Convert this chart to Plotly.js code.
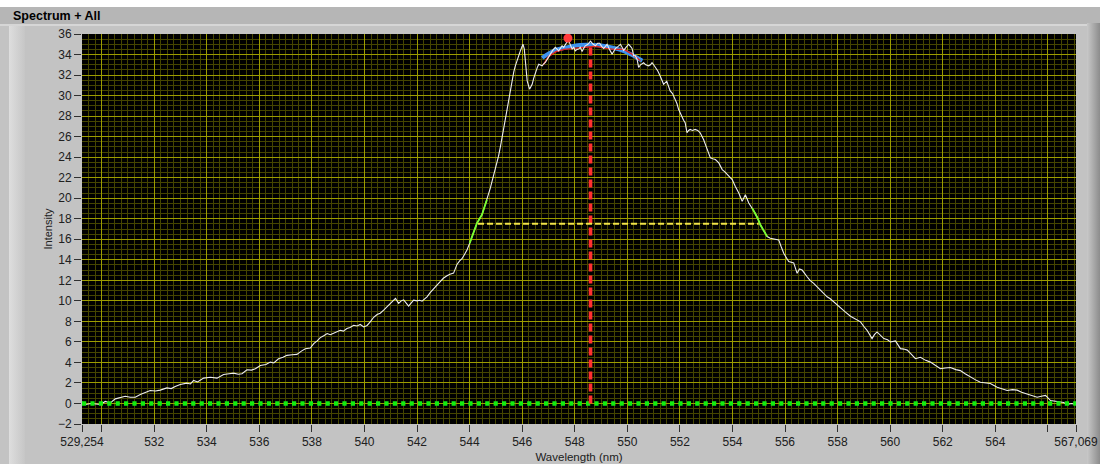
<!DOCTYPE html>
<html>
<head>
<meta charset="utf-8">
<script src="https://cdn.plot.ly/plotly-3.0.1.min.js"></script>
<style>
  html, body { margin: 0; padding: 0; width: 1104px; height: 464px; overflow: hidden; background: #c3c3c3; }
  #wrap { position: relative; width: 1104px; height: 464px; }
  .bg { position: absolute; }
  #chart { position: absolute; left: 0; top: 0; width: 1104px; height: 464px; }
</style>
</head>
<body>
<div id="wrap">
  <div class="bg" style="left:0;top:0;width:1104px;height:7px;background:#ffffff;"></div>
  <div class="bg" style="left:0;top:7px;width:1104px;height:17px;background:#b6b6b6;"></div>
  <div class="bg" style="left:0;top:24px;width:1104px;height:2px;background:#d6d6d6;"></div>
  <div class="bg" style="left:0;top:26px;width:1104px;height:438px;background:#c3c3c3;"></div>
  <div class="bg" style="left:9px;top:26px;width:16px;height:438px;background:linear-gradient(to right,#dedede,#c6c6c6);"></div>
  <div class="bg" style="left:1087px;top:23px;width:13px;height:441px;background:linear-gradient(to right,#c8c8c8,#8c8c8c);"></div>
  <div class="bg" style="left:1100px;top:0;width:4px;height:464px;background:#ffffff;"></div>
  <div id="chart"></div>
</div>
<script>
// ---- spectrum ----
const wavelength = [529.254,529.4,529.6,529.95,530.14,530.33,530.52,530.71,530.9,531.09,531.28,531.47,531.66,531.85,532.05,532.23,532.48,532.65,532.8,532.99,533.24,533.38,533.5,533.65,533.88,534.14,534.39,534.64,534.85,535.02,535.2,535.34,535.53,535.7,535.85,536.04,536.25,536.42,536.55,536.73,536.9,537.05,537.25,537.43,537.6,537.75,537.94,538.07,538.2,538.32,538.45,538.58,538.7,538.83,538.95,539.08,539.2,539.33,539.45,539.59,539.72,539.84,539.97,540.1,540.22,540.35,540.48,540.6,540.73,540.86,540.99,541.1,541.18,541.3,541.4,541.49,541.6,541.68,541.78,541.87,542.0,542.1,542.19,542.28,542.38,542.5,542.63,542.75,542.89,543.0,543.14,543.25,543.39,543.52,543.62,543.71,543.8,543.9,544.0,544.09,544.18,544.28,544.38,544.47,544.56,544.66,544.79,544.88,544.98,545.1,545.17,545.24,545.3,545.36,545.43,545.49,545.56,545.62,545.68,545.74,545.8,545.87,545.93,546.0,546.03,546.08,546.13,546.19,546.28,546.38,546.44,546.5,546.57,546.63,546.7,546.76,546.82,546.88,546.97,547.07,547.16,547.26,547.33,547.39,547.45,547.52,547.58,547.64,547.7,547.77,547.83,547.9,547.96,548.02,548.09,548.15,548.21,548.28,548.34,548.4,548.5,548.6,548.7,548.79,548.87,548.95,549.02,549.1,549.17,549.23,549.32,549.42,549.48,549.55,549.65,549.74,549.8,549.86,549.95,550.05,550.12,550.18,550.24,550.3,550.37,550.43,550.5,550.62,550.7,550.81,550.88,550.94,551.0,551.07,551.16,551.25,551.38,551.5,551.57,551.63,551.72,551.82,551.89,551.95,552.01,552.07,552.14,552.2,552.27,552.33,552.39,552.48,552.58,552.68,552.77,552.9,553.03,553.16,553.25,553.35,553.48,553.61,553.7,553.8,553.9,553.99,554.11,554.24,554.37,554.49,554.62,554.75,554.85,554.95,555.06,555.2,555.32,555.44,555.6,555.76,555.85,555.95,556.05,556.14,556.33,556.46,556.55,556.65,556.84,556.95,557.09,557.2,557.35,557.45,557.6,557.72,557.85,557.97,558.11,558.3,558.49,558.7,558.87,559.0,559.12,559.31,559.4,559.5,559.63,559.76,559.9,560.01,560.2,560.3,560.39,560.52,560.65,560.8,560.96,561.15,561.35,561.53,561.72,561.91,562.1,562.29,562.5,562.67,562.85,563.05,563.25,563.43,563.6,563.81,564.07,564.25,564.45,564.65,564.83,565.0,565.21,565.4,565.59,565.75,565.91,566.1,566.3,566.48,566.6,566.73,566.9,567.069];
const intensity = [0.15,-0.1,0.0,-0.1,0.2,0.05,0.45,0.55,0.7,0.6,0.6,0.87,1.1,1.26,1.22,1.3,1.52,1.45,1.65,1.85,1.98,1.9,2.24,2.1,2.47,2.56,2.47,2.83,2.9,2.96,2.85,2.9,3.28,3.25,3.38,3.7,3.8,4.03,3.95,4.36,4.5,4.69,4.75,4.78,5.1,5.34,5.4,5.83,6.1,6.42,6.6,6.81,6.7,6.85,6.95,7.13,7.05,7.3,7.4,7.62,7.55,7.7,7.46,7.6,7.95,8.4,8.67,8.8,9.09,9.4,9.75,10.0,10.23,9.75,10.0,10.1,9.8,9.48,9.8,10.07,10.0,10.05,9.97,10.2,10.39,10.8,11.21,11.5,11.9,12.2,12.45,12.6,12.7,13.55,13.9,14.1,14.5,14.96,15.6,16.26,16.9,17.57,18.0,18.39,19.1,19.85,21.0,21.9,22.79,24.09,25.0,26.05,26.9,27.68,28.7,29.64,30.6,31.6,32.3,32.9,33.4,33.87,34.36,34.8,35.02,34.53,32.9,31.43,30.62,31.1,31.7,32.25,32.7,33.06,32.95,32.9,33.1,33.23,33.6,34.04,34.4,34.7,34.5,34.36,34.6,34.85,34.7,35.0,35.2,35.34,34.9,34.53,34.7,34.36,34.5,34.53,34.7,34.3,34.6,34.85,35.0,35.3,35.0,34.85,35.1,35.1,34.8,34.6,34.8,35.0,34.5,34.04,34.3,34.6,34.8,35.0,34.7,34.4,34.7,35.0,34.8,34.6,33.87,33.9,33.55,32.74,33.0,33.2,33.0,32.9,33.0,33.2,33.0,32.74,32.4,31.9,31.1,31.4,30.9,30.45,30.2,29.64,29.2,28.66,28.3,27.85,27.6,27.36,26.38,26.6,26.7,26.6,26.7,26.6,26.38,25.72,24.75,23.93,23.85,23.77,23.44,22.79,22.6,22.3,22.1,21.81,21.15,20.51,19.69,20.34,19.53,19.04,18.6,18.1,17.41,16.8,16.26,16.1,16.0,15.94,15.3,14.64,14.2,13.82,13.7,12.68,13.1,13.0,12.35,12.0,11.7,11.4,11.05,10.8,10.39,10.2,9.9,9.6,9.25,8.9,8.5,8.2,7.95,7.5,7.13,6.32,6.7,6.97,6.6,6.32,6.2,5.99,6.1,5.7,5.34,5.3,5.2,4.8,4.36,4.5,4.2,4.03,3.7,3.38,3.45,3.5,3.3,3.2,2.9,2.56,2.3,2.07,2.0,1.95,1.58,1.4,1.26,1.35,1.3,1.1,0.94,0.75,0.61,0.7,0.78,0.28,0.2,0.12,0.1,-0.1,0.0,-0.1];

// ---- peak fit (blue) and fitted data region (red) ----
const fitWl  = [546.76,547.2,547.7,548.21,548.72,549.23,549.74,550.12,550.57];
const fitVal = [33.68,34.36,34.7,34.92,34.92,34.79,34.46,34.04,33.39];
const fitDataWl  = [546.8,547.0,547.3,547.6,548.0,548.4,548.8,549.2,549.5,549.86,550.18,550.5];
const fitDataVal = [33.0,33.8,34.3,34.5,34.6,34.7,34.8,34.6,34.5,34.53,34.04,33.39];

// ---- markers / annotations ----
const maxWl = 547.74, maxVal = 35.6;          // red dot
const centerWl = 548.6, centerTop = 34.9;     // red dashed vertical
const halfMax = 17.5, fwhmLeft = 544.32, fwhmRight = 555.0; // yellow dashed
const greenLeft = [544.0, 544.7], greenRight = [554.7, 555.35];
const baselineWl = [529.254, 567.069], baselineVal = [0, 0];

// ---- axis ----
const xRange = [529.254, 567.069];
const yRange = [-2, 36];
const xTickVals = [529.254,530,532,534,536,538,540,542,544,546,548,550,552,554,556,558,560,562,564,566,567.069];
const xTickText = ["529,254","","532","534","536","538","540","542","544","546","548","550","552","554","556","558","560","562","564","","567,069"];

function sub(range) {
  const x = [], y = [];
  wavelength.forEach((w, i) => { if (w >= range[0] && w <= range[1]) { x.push(w); y.push(intensity[i]); } });
  return {x, y};
}
const gL = sub(greenLeft), gR = sub(greenRight);

const traces = [
  {x: fitWl, y: fitVal, mode: 'lines', line: {color: '#3d92ee', width: 4, shape: 'spline'}, hoverinfo: 'skip'},
  {x: fitDataWl, y: fitDataVal, mode: 'lines', line: {color: '#e02424', width: 1.4}, hoverinfo: 'skip'},
  {x: wavelength, y: intensity, mode: 'lines', line: {color: '#eeeeee', width: 1.1}, hoverinfo: 'skip'},
  {x: baselineWl, y: baselineVal, mode: 'lines', line: {color: '#10ee10', width: 4.5, dash: '4.2px,4.2px'}, hoverinfo: 'skip'},
  {x: gL.x, y: gL.y, mode: 'lines', line: {color: '#78ff30', width: 1.8}, hoverinfo: 'skip'},
  {x: gR.x, y: gR.y, mode: 'lines', line: {color: '#78ff30', width: 1.8}, hoverinfo: 'skip'},
  {x: [fwhmLeft, fwhmRight], y: [halfMax, halfMax], xaxis: 'x2', mode: 'lines', line: {color: '#f2e44a', width: 2, dash: '6px,3px'}, hoverinfo: 'skip'},
  {x: [centerWl, centerWl], y: [0, centerTop], mode: 'lines', line: {color: '#ff3030', width: 3.6, dash: '8px,4px'}, hoverinfo: 'skip'},
  {x: [maxWl], y: [maxVal], mode: 'markers', marker: {color: '#ff3a3a', size: 9, line: {width: 0}}, hoverinfo: 'skip'}
];

const tickFont = {family: 'Liberation Sans, Arial, sans-serif', size: 12, color: '#202020'};
const majorGrid = '#9c9c00', minorGrid = '#454500';

const layout = {
  width: 1104, height: 464,
  margin: {l: 82, r: 28, t: 34, b: 40, pad: 0},
  paper_bgcolor: 'rgba(0,0,0,0)',
  plot_bgcolor: '#000000',
  showlegend: false,
  title: {text: '<b>Spectrum + All</b>', xref: 'container', yref: 'container', x: 13/1104, xanchor: 'left', y: 1 - 15.5/464, yanchor: 'middle',
          font: {family: 'Liberation Sans, Arial, sans-serif', size: 12.5, color: '#000000'}},
  xaxis: {range: xRange, tickmode: 'linear', tick0: 530, dtick: 2, showticklabels: false, ticks: '',
          showgrid: true, gridcolor: majorGrid, gridwidth: 1, zeroline: false, showline: false,
          minor: {tickmode: 'linear', tick0: 530, dtick: 0.25, showgrid: true, gridcolor: minorGrid, gridwidth: 1, ticks: ''}},
  xaxis2: {overlaying: 'x', anchor: 'y', side: 'bottom', range: xRange, tickmode: 'array', tickvals: xTickVals, ticktext: xTickText,
           showgrid: false, zeroline: false, showline: false, ticks: 'outside', ticklen: 7, tickwidth: 1, tickcolor: '#303030',
           tickfont: tickFont,
           title: {text: 'Wavelength (nm)', standoff: 4, font: {family: 'Liberation Sans, Arial, sans-serif', size: 11.5, color: '#202020'}}},
  yaxis: {range: yRange, tickmode: 'linear', tick0: 0, dtick: 2, ticks: 'outside', ticklen: 7, tickwidth: 1, tickcolor: '#303030',
          tickfont: tickFont, showgrid: true, gridcolor: majorGrid, gridwidth: 1, zeroline: false, showline: false,
          minor: {tickmode: 'linear', tick0: 0, dtick: 0.5, showgrid: true, gridcolor: minorGrid, gridwidth: 1, ticks: ''},
          title: {text: 'Intensity', standoff: 3, font: {family: 'Liberation Sans, Arial, sans-serif', size: 11, color: '#202020'}}}
};

Plotly.newPlot('chart', traces, layout, {displayModeBar: false, staticPlot: true});
</script>
</body>
</html>
